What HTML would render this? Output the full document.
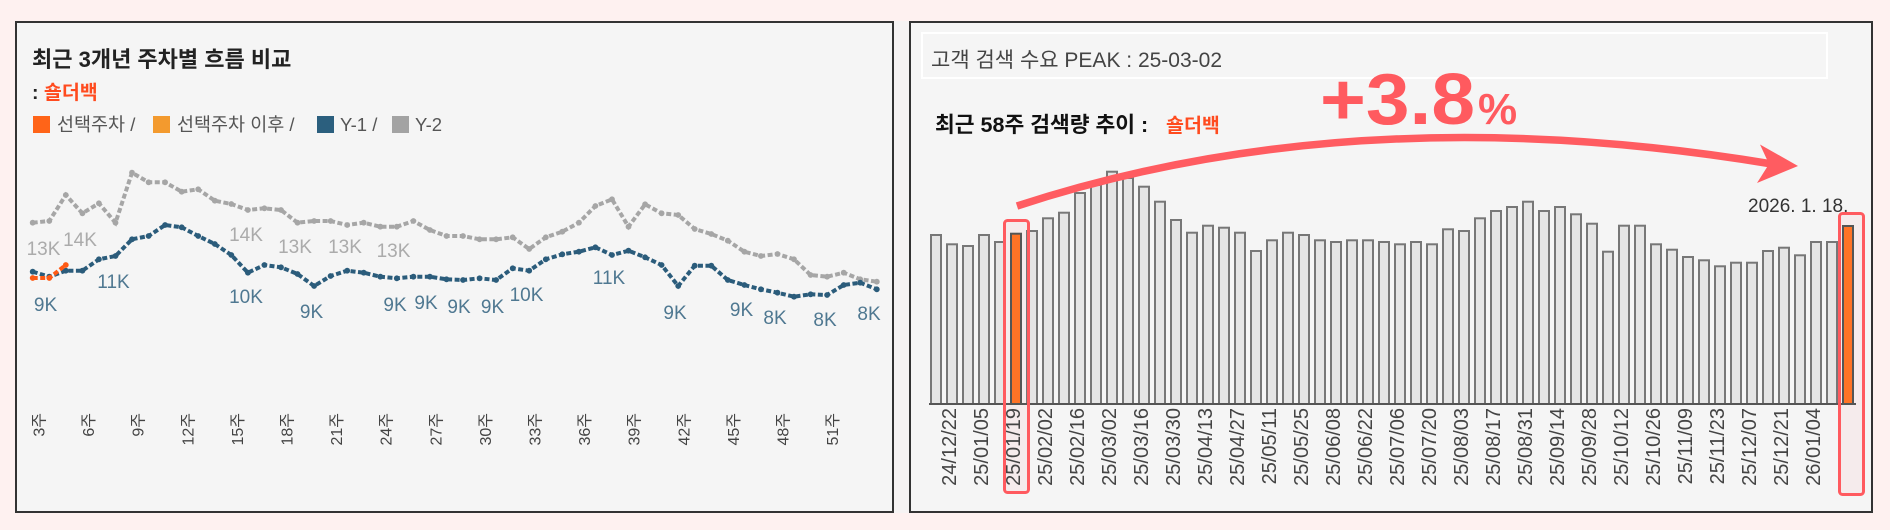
<!DOCTYPE html>
<html>
<head>
<meta charset="utf-8">
<style>
html,body{margin:0;padding:0;background:#FEF1F0;}
body{width:1890px;height:530px;overflow:hidden;}
svg{display:block;}
text{font-family:"Liberation Sans","Noto Sans CJK KR",sans-serif;}
</style>
</head>
<body>
<svg width="1890" height="530" viewBox="0 0 1890 530" xmlns="http://www.w3.org/2000/svg">
<defs>
<marker id="mg" viewBox="0 0 8 8" refX="4" refY="4" markerWidth="8" markerHeight="8" markerUnits="userSpaceOnUse"><circle cx="4" cy="4" r="2.9" fill="#A6A6A6"/></marker>
<marker id="mb" viewBox="0 0 8 8" refX="4" refY="4" markerWidth="8" markerHeight="8" markerUnits="userSpaceOnUse"><circle cx="4" cy="4" r="2.9" fill="#2B5C7B"/></marker>
<marker id="mo" viewBox="0 0 8 8" refX="4" refY="4" markerWidth="8" markerHeight="8" markerUnits="userSpaceOnUse"><circle cx="4" cy="4" r="2.9" fill="#FF5A14"/></marker>
</defs>
<rect x="0" y="0" width="1890" height="530" fill="#FEF1F0"/>
<rect x="894" y="21" width="15" height="492" fill="#F6F3F3"/>

<!-- LEFT PANEL -->
<rect x="16" y="22" width="877" height="490" fill="#F5F5F5" stroke="#333" stroke-width="2"/>
<text x="32" y="67" font-size="22" font-weight="bold" fill="#222">최근 3개년 주차별 흐름 비교</text>
<text x="32" y="99" font-size="19.5" font-weight="bold" fill="#222">: <tspan fill="#FF4B1F">숄더백</tspan></text>
<rect x="33" y="116" width="17" height="17" fill="#FF6418"/>
<text x="57" y="131" font-size="18.5" fill="#555">선택주차 /</text>
<rect x="153" y="116" width="17" height="17" fill="#F39A2E"/>
<text x="177" y="131" font-size="18.5" fill="#555">선택주차 이후 /</text>
<rect x="317" y="116" width="17" height="17" fill="#2B5F7E"/>
<text x="340" y="131" font-size="18.5" fill="#555">Y-1 /</text>
<rect x="392" y="116" width="17" height="17" fill="#A3A3A3"/>
<text x="415" y="131" font-size="18.5" fill="#555">Y-2</text>

<polyline fill="none" stroke="#A6A6A6" stroke-width="4" stroke-dasharray="5 2.5" marker-start="url(#mg)" marker-mid="url(#mg)" marker-end="url(#mg)" points="32.7,222.7 49.3,221 65.8,195 82.4,213.3 98.9,203.3 115.5,222.7 132,172.7 148.6,182.3 165.1,182.3 181.7,191.7 198.2,189.3 214.8,200.7 231.3,204 247.9,210 264.4,208.3 281,210 297.5,222.7 314.1,221 330.6,221 347.2,225 363.7,222.7 380.3,226.7 396.8,226.7 413.4,221 429.9,230 446.5,236 463,236 479.6,239.3 496.1,239.3 512.7,237.3 529.2,249 545.8,237.3 562.3,231.7 578.9,222.7 595.4,206 612,199.3 628.5,226.7 645.1,204.3 661.6,213.3 678.2,215 694.7,229 711.3,234 727.8,240.7 744.4,251.7 760.9,256 777.5,254 794,259.3 810.6,275 827.1,276.7 843.7,272.7 860.2,279.3 876.8,281.7"/>
<polyline fill="none" stroke="#2B5C7B" stroke-width="4" stroke-dasharray="5 2.5" marker-start="url(#mb)" marker-mid="url(#mb)" marker-end="url(#mb)" points="32.7,271.7 49.3,276.7 65.8,270.7 82.4,270.7 98.9,259.3 115.5,256 132,239.3 148.6,236 165.1,225 181.7,227.3 198.2,236 214.8,244 231.3,255 247.9,272.7 264.4,265 281,267.3 297.5,274 314.1,286 330.6,276 347.2,270.7 363.7,272.7 380.3,276.7 396.8,278.3 413.4,276.7 429.9,276.7 446.5,279.3 463,280 479.6,278.3 496.1,280 512.7,268.3 529.2,270.7 545.8,259.3 562.3,254.3 578.9,251.7 595.4,247.3 612,255 628.5,250.7 645.1,257.3 661.6,265 678.2,286 694.7,265.7 711.3,265.7 727.8,280 744.4,285 760.9,289.3 777.5,292.7 794,296.7 810.6,294.3 827.1,295 843.7,285 860.2,282.7 876.8,289.3"/>
<polyline fill="none" stroke="#FF5A14" stroke-width="4" stroke-dasharray="5 2.5" marker-start="url(#mo)" marker-mid="url(#mo)" marker-end="url(#mo)" points="32.7,278 49.3,278 65.8,265"/>

<g font-size="19" fill="#ABABAB" text-anchor="middle">
<text x="43.5" y="255">13K</text>
<text x="80" y="246">14K</text>
<text x="246" y="241">14K</text>
<text x="295" y="253">13K</text>
<text x="345" y="253">13K</text>
<text x="393.5" y="257">13K</text>
</g>
<g font-size="19" fill="#4F7891" text-anchor="middle">
<text x="45.5" y="311">9K</text>
<text x="113.5" y="288">11K</text>
<text x="246" y="303">10K</text>
<text x="311.5" y="318">9K</text>
<text x="395" y="311">9K</text>
<text x="426" y="309">9K</text>
<text x="459" y="313">9K</text>
<text x="492.5" y="313">9K</text>
<text x="526.5" y="301">10K</text>
<text x="609" y="284">11K</text>
<text x="675" y="319">9K</text>
<text x="741.5" y="316">9K</text>
<text x="775" y="324">8K</text>
<text x="825" y="326">8K</text>
<text x="869" y="320">8K</text>
</g>

<g font-size="16" fill="#444" text-anchor="end" dominant-baseline="central">
<text transform="translate(40,413) rotate(-90)">3주</text>
<text transform="translate(89.6,413) rotate(-90)">6주</text>
<text transform="translate(139.2,413) rotate(-90)">9주</text>
<text transform="translate(188.8,413) rotate(-90)">12주</text>
<text transform="translate(238.4,413) rotate(-90)">15주</text>
<text transform="translate(288,413) rotate(-90)">18주</text>
<text transform="translate(337.6,413) rotate(-90)">21주</text>
<text transform="translate(387.2,413) rotate(-90)">24주</text>
<text transform="translate(436.8,413) rotate(-90)">27주</text>
<text transform="translate(486.4,413) rotate(-90)">30주</text>
<text transform="translate(536,413) rotate(-90)">33주</text>
<text transform="translate(585.6,413) rotate(-90)">36주</text>
<text transform="translate(635.2,413) rotate(-90)">39주</text>
<text transform="translate(684.8,413) rotate(-90)">42주</text>
<text transform="translate(734.4,413) rotate(-90)">45주</text>
<text transform="translate(784,413) rotate(-90)">48주</text>
<text transform="translate(833.6,413) rotate(-90)">51주</text>
</g>

<!-- RIGHT PANEL -->
<rect x="910" y="22" width="962" height="490" fill="#F5F5F5" stroke="#333" stroke-width="2"/>
<rect x="922" y="33" width="905" height="45" fill="none" stroke="#FFFFFF" stroke-width="2"/>
<text x="931" y="67" font-size="21" fill="#444">고객 검색 수요 PEAK : 25-03-02</text>
<text x="935" y="132" font-size="21.5" font-weight="bold" fill="#111">최근 58주 검색량 추이 :</text>
<text x="1166" y="132" font-size="19.5" font-weight="bold" fill="#FF4B1F">숄더백</text>

<!-- highlight boxes background -->
<rect x="1004.5" y="220.5" width="24" height="272" rx="3" fill="#FF5A5F" fill-opacity="0.06"/>
<rect x="1839.5" y="213.5" width="24" height="281" rx="3" fill="#FF5A5F" fill-opacity="0.06"/>

<g fill="#E5E5E5" stroke="#777" stroke-width="2">
<rect x="931" y="235" width="10" height="169"/>
<rect x="947" y="244.3" width="10" height="159.7"/>
<rect x="963" y="246" width="10" height="158"/>
<rect x="979" y="235" width="10" height="169"/>
<rect x="995" y="242" width="10" height="162"/>
<rect x="1011" y="233.7" width="10" height="170.3" fill="#FF7326" stroke="#555"/>
<rect x="1027" y="231" width="10" height="173"/>
<rect x="1043" y="218.3" width="10" height="185.7"/>
<rect x="1059" y="212.7" width="10" height="191.3"/>
<rect x="1075" y="193" width="10" height="211"/>
<rect x="1091" y="185" width="10" height="219"/>
<rect x="1107" y="171.7" width="10" height="232.3"/>
<rect x="1123" y="178" width="10" height="226"/>
<rect x="1139" y="186.7" width="10" height="217.3"/>
<rect x="1155" y="201.7" width="10" height="202.3"/>
<rect x="1171" y="220" width="10" height="184"/>
<rect x="1187" y="232.7" width="10" height="171.3"/>
<rect x="1203" y="225.7" width="10" height="178.3"/>
<rect x="1219" y="227.7" width="10" height="176.3"/>
<rect x="1235" y="232.7" width="10" height="171.3"/>
<rect x="1251" y="251" width="10" height="153"/>
<rect x="1267" y="240.3" width="10" height="163.7"/>
<rect x="1283" y="232.7" width="10" height="171.3"/>
<rect x="1299" y="235" width="10" height="169"/>
<rect x="1315" y="240.3" width="10" height="163.7"/>
<rect x="1331" y="242" width="10" height="162"/>
<rect x="1347" y="240.3" width="10" height="163.7"/>
<rect x="1363" y="240.3" width="10" height="163.7"/>
<rect x="1379" y="242" width="10" height="162"/>
<rect x="1395" y="244.3" width="10" height="159.7"/>
<rect x="1411" y="242" width="10" height="162"/>
<rect x="1427" y="244.3" width="10" height="159.7"/>
<rect x="1443" y="229.3" width="10" height="174.7"/>
<rect x="1459" y="231" width="10" height="173"/>
<rect x="1475" y="218.3" width="10" height="185.7"/>
<rect x="1491" y="211" width="10" height="193"/>
<rect x="1507" y="207" width="10" height="197"/>
<rect x="1523" y="201.7" width="10" height="202.3"/>
<rect x="1539" y="211" width="10" height="193"/>
<rect x="1555" y="207" width="10" height="197"/>
<rect x="1571" y="214.3" width="10" height="189.7"/>
<rect x="1587" y="223.7" width="10" height="180.3"/>
<rect x="1603" y="251.7" width="10" height="152.3"/>
<rect x="1619" y="225.7" width="10" height="178.3"/>
<rect x="1635" y="225.7" width="10" height="178.3"/>
<rect x="1651" y="244.3" width="10" height="159.7"/>
<rect x="1667" y="249.7" width="10" height="154.3"/>
<rect x="1683" y="257" width="10" height="147"/>
<rect x="1699" y="260.3" width="10" height="143.7"/>
<rect x="1715" y="266.3" width="10" height="137.7"/>
<rect x="1731" y="262.7" width="10" height="141.3"/>
<rect x="1747" y="262.7" width="10" height="141.3"/>
<rect x="1763" y="251" width="10" height="153"/>
<rect x="1779" y="247.7" width="10" height="156.3"/>
<rect x="1795" y="255.3" width="10" height="148.7"/>
<rect x="1811" y="242" width="10" height="162"/>
<rect x="1827" y="242" width="10" height="162"/>
<rect x="1843" y="226" width="10" height="178" fill="#FF7326" stroke="#555"/>
</g>
<line x1="929" y1="404" x2="1856" y2="404" stroke="#555" stroke-width="2"/>

<g font-size="20" fill="#444" text-anchor="end" dominant-baseline="central">
<text transform="translate(950,408) rotate(-90)">24/12/22</text>
<text transform="translate(982,408) rotate(-90)">25/01/05</text>
<text transform="translate(1014,408) rotate(-90)">25/01/19</text>
<text transform="translate(1046,408) rotate(-90)">25/02/02</text>
<text transform="translate(1078,408) rotate(-90)">25/02/16</text>
<text transform="translate(1110,408) rotate(-90)">25/03/02</text>
<text transform="translate(1142,408) rotate(-90)">25/03/16</text>
<text transform="translate(1174,408) rotate(-90)">25/03/30</text>
<text transform="translate(1206,408) rotate(-90)">25/04/13</text>
<text transform="translate(1238,408) rotate(-90)">25/04/27</text>
<text transform="translate(1270,408) rotate(-90)">25/05/11</text>
<text transform="translate(1302,408) rotate(-90)">25/05/25</text>
<text transform="translate(1334,408) rotate(-90)">25/06/08</text>
<text transform="translate(1366,408) rotate(-90)">25/06/22</text>
<text transform="translate(1398,408) rotate(-90)">25/07/06</text>
<text transform="translate(1430,408) rotate(-90)">25/07/20</text>
<text transform="translate(1462,408) rotate(-90)">25/08/03</text>
<text transform="translate(1494,408) rotate(-90)">25/08/17</text>
<text transform="translate(1526,408) rotate(-90)">25/08/31</text>
<text transform="translate(1558,408) rotate(-90)">25/09/14</text>
<text transform="translate(1590,408) rotate(-90)">25/09/28</text>
<text transform="translate(1622,408) rotate(-90)">25/10/12</text>
<text transform="translate(1654,408) rotate(-90)">25/10/26</text>
<text transform="translate(1686,408) rotate(-90)">25/11/09</text>
<text transform="translate(1718,408) rotate(-90)">25/11/23</text>
<text transform="translate(1750,408) rotate(-90)">25/12/07</text>
<text transform="translate(1782,408) rotate(-90)">25/12/21</text>
<text transform="translate(1814,408) rotate(-90)">26/01/04</text>
</g>

<!-- highlight box strokes -->
<rect x="1004.5" y="220.5" width="24" height="272" rx="3" fill="none" stroke="#FF5A5F" stroke-width="3"/>
<rect x="1839.5" y="213.5" width="24" height="281" rx="3" fill="none" stroke="#FF5A5F" stroke-width="3"/>

<text x="1748" y="212" font-size="19" fill="#333">2026. 1. 18.</text>

<!-- arrow -->
<path d="M1017,206 Q1356,95 1772,164" fill="none" stroke="#FF5C61" stroke-width="7.5"/>
<polygon points="1798,166 1760,144.5 1769,164 1757,183" fill="#FF5C61"/>

<text x="1320" y="124" font-size="72" font-weight="bold" fill="#FF5A5F" textLength="155" lengthAdjust="spacingAndGlyphs">+3.8</text>
<text x="1478" y="124" font-size="44" font-weight="bold" fill="#FF5A5F">%</text>
</svg>
</body>
</html>
